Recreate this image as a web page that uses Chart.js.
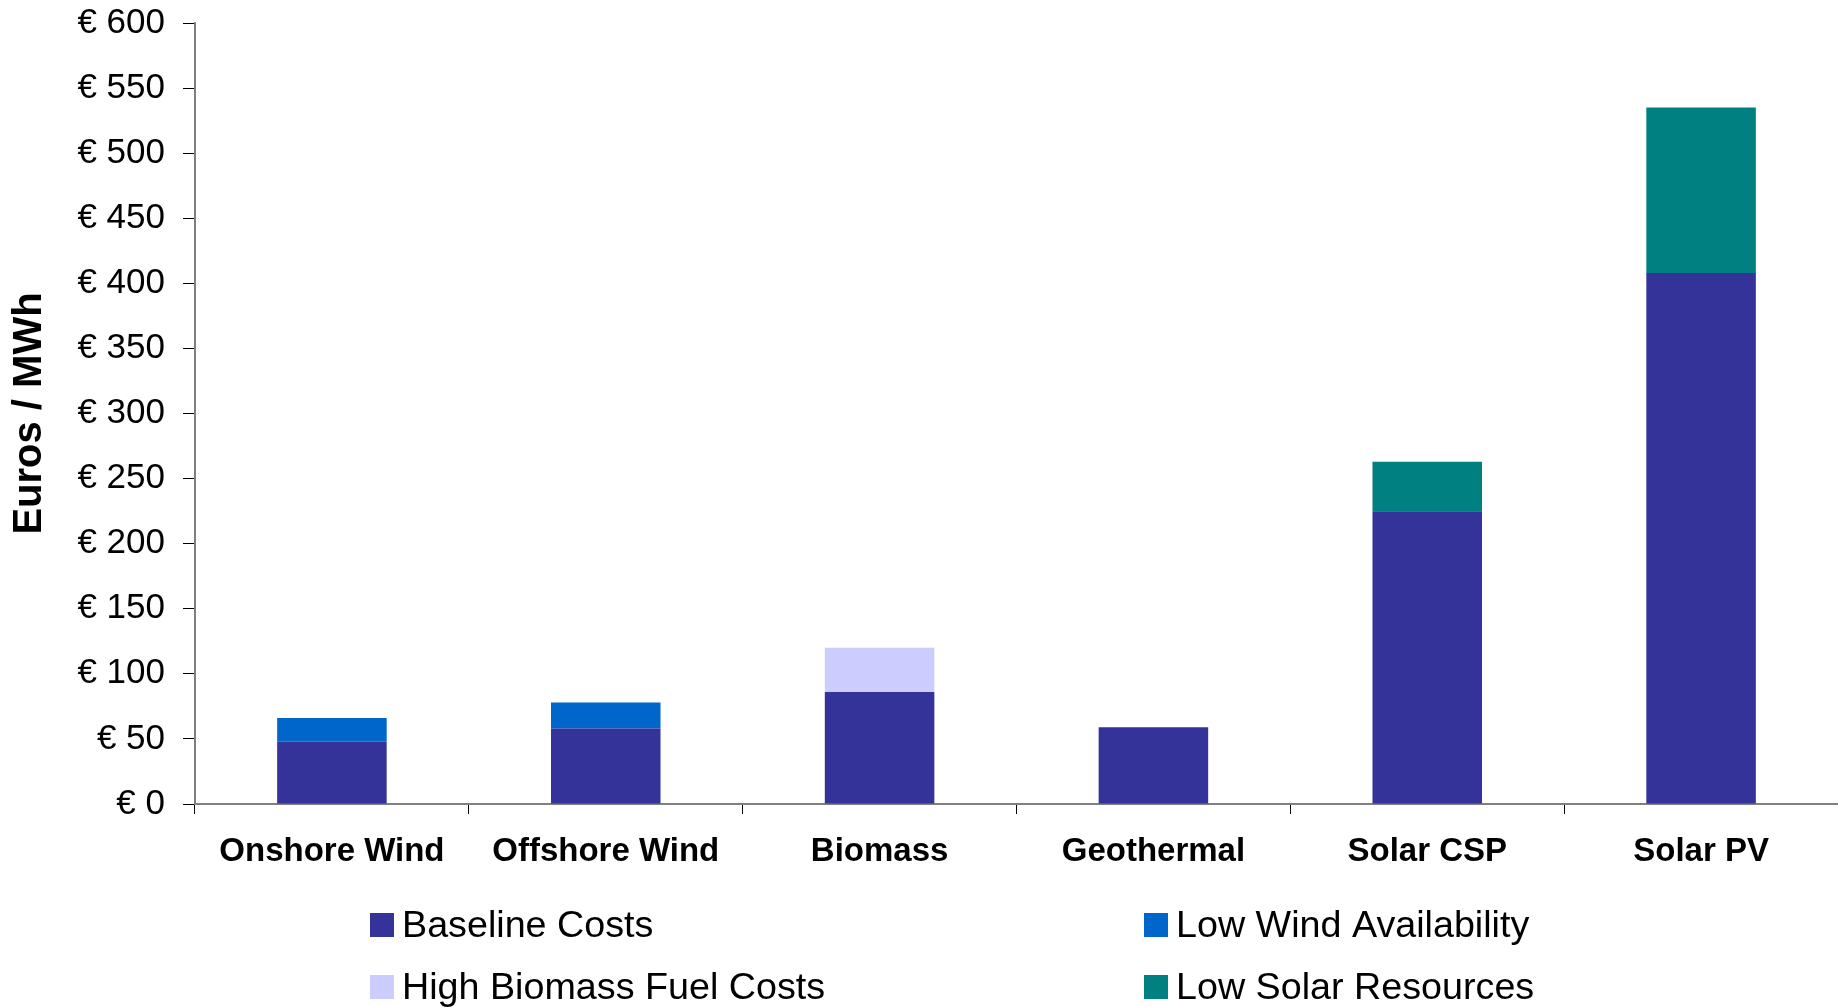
<!DOCTYPE html>
<html>
<head>
<meta charset="utf-8">
<title>Levelised cost by technology</title>
<script src="https://cdn.jsdelivr.net/npm/chart.js@4.4.1/dist/chart.umd.min.js"></script>
<style>
  html, body { margin: 0; padding: 0; background: #fff; }
</style>
</head>
<body>
<canvas id="costChart" width="1838" height="1007"></canvas>
<script>
// technologies along the x axis
const categories = ['Onshore Wind', 'Offshore Wind', 'Biomass', 'Geothermal', 'Solar CSP', 'Solar PV'];

// euros per MWh, stacked on top of the baseline
const baselineCosts = [48, 58, 86, 59, 225, 408];
const lowWindAvailability = [18, 20, null, null, null, null];
const highBiomassFuelCosts = [null, null, 34, null, null, null];
const lowSolarResources = [null, null, null, null, 38, 127];

const yMin = 0;
const yMax = 600;
const yStep = 50;

const FONT = "'Liberation Sans', Arial, sans-serif";

// two-column legend under the axis
const gridLegend = {
    id: 'gridLegend',
    afterDraw(chart, args, opts) {
        const ctx = chart.ctx;
        ctx.save();
        ctx.font = opts.fontSize + 'px ' + FONT;
        ctx.textBaseline = 'alphabetic';
        ctx.textAlign = 'left';
        chart.data.datasets.forEach((ds, i) => {
            const col = i % 2;
            const row = Math.floor(i / 2);
            const x = opts.columns[col];
            const base = opts.rows[row];
            ctx.fillStyle = ds.backgroundColor;
            ctx.fillRect(x, base - opts.box, opts.box, opts.box);
            ctx.fillStyle = '#000';
            ctx.fillText(ds.label, x + opts.box + 8, base);
        });
        ctx.restore();
    }
};

const ctx = document.getElementById('costChart').getContext('2d');
new Chart(ctx, {
    type: 'bar',
    data: {
        labels: categories,
        datasets: [
            { label: 'Baseline Costs', data: baselineCosts, backgroundColor: '#333399' },
            { label: 'Low Wind Availability', data: lowWindAvailability, backgroundColor: '#0066CC' },
            { label: 'High Biomass Fuel Costs', data: highBiomassFuelCosts, backgroundColor: '#CCCCFF' },
            { label: 'Low Solar Resources', data: lowSolarResources, backgroundColor: '#008080' }
        ]
    },
    options: {
        responsive: false,
        devicePixelRatio: 1,
        animation: false,
        categoryPercentage: 1,
        barPercentage: 0.4,
        layout: { padding: { top: 23, right: 0, bottom: 140, left: 0 } },
        plugins: {
            legend: { display: false },
            tooltip: { enabled: false },
            gridLegend: { columns: [370, 1144], rows: [937, 999], box: 24, fontSize: 37.7 }
        },
        scales: {
            x: {
                stacked: true,
                grid: { drawOnChartArea: false, offset: true, tickLength: 10, color: '#000', lineWidth: 1 },
                border: { color: '#808080', width: 2 },
                ticks: { color: '#000', padding: 18, font: { family: FONT, size: 33, weight: 'bold' } },
                afterFit(scale) { scale.height = 63; }
            },
            y: {
                stacked: true,
                min: yMin,
                max: yMax,
                grid: { drawOnChartArea: false, tickLength: 12, color: '#000', lineWidth: 1 },
                border: { color: '#808080', width: 2 },
                ticks: {
                    stepSize: yStep,
                    color: '#000',
                    padding: 18,
                    font: { family: FONT, size: 35 },
                    callback: v => '€ ' + v
                },
                title: {
                    display: true,
                    text: 'Euros / MWh',
                    color: '#000',
                    padding: { top: 6, bottom: 0 },
                    font: { family: FONT, size: 40, weight: 'bold' }
                },
                afterFit(scale) {
                    scale.width = 195;
                    // let the layout padding alone decide the top edge
                    scale.paddingTop = 0;
                    scale.paddingBottom = 0;
                }
            }
        }
    },
    plugins: [gridLegend]
});
</script>
</body>
</html>
